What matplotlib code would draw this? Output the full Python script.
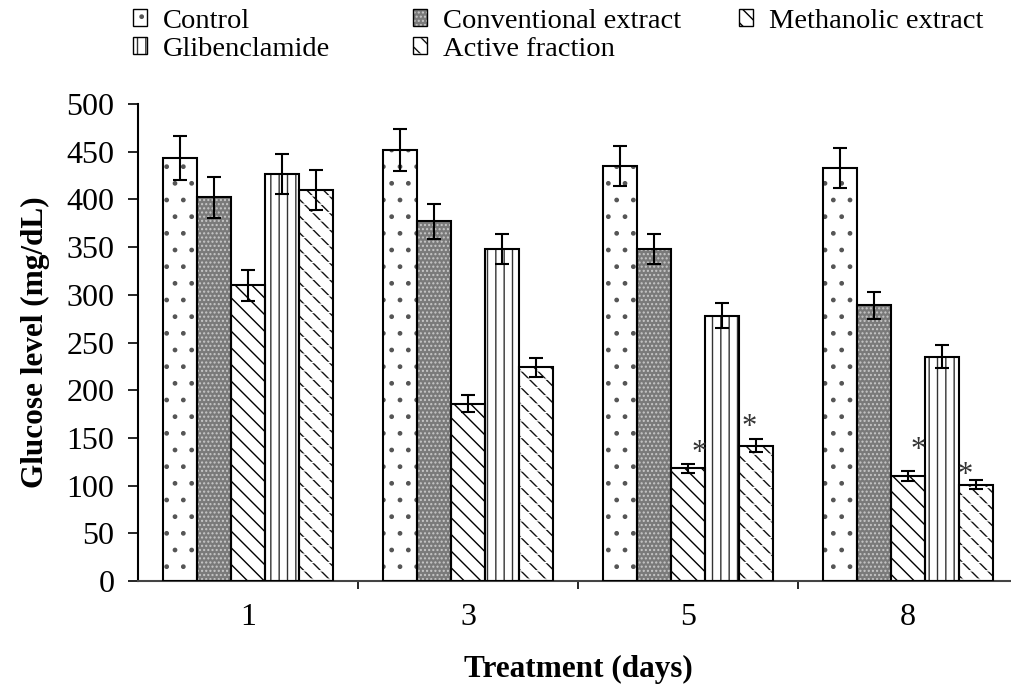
import matplotlib
matplotlib.use('Agg')
import matplotlib.pyplot as plt
from matplotlib.patches import Patch
import numpy as np

plt.rcParams['font.family'] = ['Liberation Serif', 'DejaVu Serif']
plt.rcParams['hatch.linewidth'] = 1.0

days = ['1', '3', '5', '8']
names = ['Control', 'Conventional extract', 'Methanolic extract', 'Glibenclamide', 'Active fraction']

control = [443, 452, 435, 433]
control_err = [23, 22, 21, 21]
conventional = [402, 377, 348, 289]
conventional_err = [21, 18, 16, 14]
methanolic = [310, 186, 118, 110]
methanolic_err = [16, 9, 5, 5]
glibenclamide = [427, 348, 278, 235]
glibenclamide_err = [21, 16, 13, 12]
active = [410, 224, 142, 101]
active_err = [21, 10, 7, 5]

# significance stars: (series index, day index, dx in bar widths, dy above error bar)
stars = [(2, 2, 0.33, 11), (4, 2, -0.2, 12), (2, 3, 0.3, 22), (4, 3, -0.33, 5)]

values = [control, conventional, methanolic, glibenclamide, active]
errors = [control_err, conventional_err, methanolic_err, glibenclamide_err, active_err]

# face, hatch, hatch colour
styles = [
    ('white', '.', '#555555'),
    ('#7a7a7a', '....', '#c8c8c8'),
    ('white', '\\\\', 'black'),
    ('white', '||', '#333333'),
    ('white', '\\\\', '#111111'),
]

fig = plt.figure(figsize=(10.11, 6.91), dpi=100)
ax = fig.add_axes([138 / 1011, 1 - 581 / 691, 880 / 1011, (581 - 104) / 691])

x = np.arange(len(days))
width = 0.1545
handles = []
for i, (vals, errs) in enumerate(zip(values, errors)):
    pos = x + (i - 2) * width
    face, hatch, hcol = styles[i]
    ax.bar(pos, vals, width, color=face, hatch=hatch, edgecolor=hcol, linewidth=0, zorder=2)
    h1 = Patch(facecolor=face, hatch=hatch, edgecolor=hcol, linewidth=0)
    parts = [h1]
    if i == 4:
        # white cross lines break the diagonals into dashes
        ax.bar(pos, vals, width, color='none', hatch='--', edgecolor='white', linewidth=0, zorder=2.5)
        parts.append(Patch(facecolor='none', hatch='--', edgecolor='white', linewidth=0))
    ax.bar(pos, vals, width, fill=False, edgecolor='black', linewidth=1.5, zorder=3)
    ax.errorbar(pos, vals, yerr=errs, fmt='none', ecolor='black', elinewidth=1.5,
                capsize=4.7, capthick=1.5, zorder=4)
    parts.append(Patch(fill=False, edgecolor='black', linewidth=1.0))
    handles.append(tuple(parts))

for s, d, dx, dy in stars:
    xs = x[d] + (s - 2) * width + dx * width
    ys = values[s][d] + errors[s][d] + dy
    ax.text(xs, ys, '*', ha='center', va='center', fontsize=22, color='#333333')

ax.set_xlim(-0.5, 3.5)
ax.set_ylim(0, 500)
ax.set_yticks(range(0, 501, 50))
ax.set_xticks([0.5, 1.5, 2.5])
ax.set_xticklabels([])
ax.set_xticks(x, minor=True)
ax.set_xticklabels(days, minor=True)
ax.tick_params(axis='x', which='major', direction='out', length=6, width=1.2)
ax.tick_params(axis='x', which='minor', length=0, pad=16, labelsize=23)
ax.tick_params(axis='y', direction='out', length=7, width=1.2, labelsize=23, pad=10)

for sp in ['top', 'right']:
    ax.spines[sp].set_visible(False)
ax.spines['left'].set_linewidth(1.5)
ax.spines['bottom'].set_linewidth(1.5)
ax.spines['bottom'].set_color('#444444')

ax.set_xlabel('Treatment (days)', fontsize=22.5, fontweight='bold', labelpad=16)
ax.set_ylabel('Glucose level (mg/dL)', fontsize=22.5, fontweight='bold', labelpad=12)

# legend entries placed one by one: (series, left px, centre px)
legend_pos = [(0, 133, 21), (1, 413, 21), (2, 739, 21), (3, 133, 49), (4, 413, 49)]
for k, px, py in legend_pos:
    fig.legend([handles[k]], [names[k]], loc='center left',
               bbox_to_anchor=(px / 1011, 1 - py / 691), frameon=False,
               fontsize=20.5, handlelength=0.5, handleheight=0.5, handletextpad=0.55,
               borderpad=0, borderaxespad=0)

fig.savefig('out.png', dpi=100)
